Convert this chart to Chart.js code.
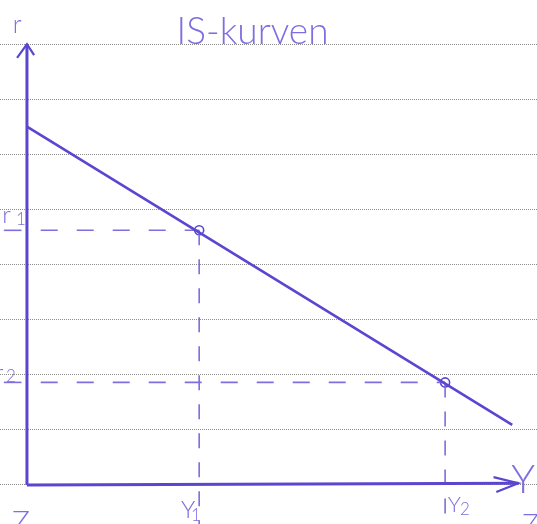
<!DOCTYPE html>
<html lang="da">
<head>
  <meta charset="UTF-8">
  <title>IS-kurven</title>
  <script src="https://cdn.jsdelivr.net/npm/chart.js"></script>
  <style>
    html, body { margin: 0; padding: 0; background: #fff; }
    canvas { display: block; }
  </style>
</head>
<body>
  <canvas id="is" width="537" height="524"></canvas>

  <script>
    // IS-kurven: endepunkter (Y, r)
    const isY = [0, 8.82];
    const isR = [6.50, 1.09];

    // aflæste niveauer
    const yLevels = [3.13, 7.6];    // Y1, Y2
    const rLevels = [4.62, 1.86];   // r1, r2

    // akser
    const rAxisTop = 8.0;
    const yAxisEnd = 8.93;
    const bottom = -0.71;

    const pen = '#5a46d0';
    const penLight = '#7e6ee0';

    const line = (pts, extra) => Object.assign({
      data: pts, showLine: true, pointRadius: 0, borderColor: pen,
      borderWidth: 2.5, fill: false, tension: 0
    }, extra || {});

    const dash = { borderColor: penLight, borderWidth: 1.6, borderDash: [17, 19] };

    const datasets = [
      // r-aksen med pil
      line([{ x: 0, y: 0 }, { x: 0, y: rAxisTop }], { borderWidth: 3 }),
      line([{ x: -0.18, y: rAxisTop - 0.25 }, { x: 0, y: rAxisTop }, { x: 0.13, y: rAxisTop - 0.2 }], { borderWidth: 2.2 }),
      // Y-aksen med pil
      line([{ x: 0, y: 0 }, { x: yAxisEnd, y: 0.03 }], { borderWidth: 3 }),
      line([{ x: yAxisEnd - 0.45, y: 0.14 }, { x: yAxisEnd, y: 0.03 }, { x: yAxisEnd - 0.4, y: -0.13 }], { borderWidth: 2.2 }),
      // IS-kurven
      line(isY.map((v, i) => ({ x: v, y: isR[i] })), { borderWidth: 2.6 }),
    ];

    yLevels.forEach((yv, i) => {
      const rv = rLevels[i];
      datasets.push(line([{ x: 0.25, y: rv }, { x: yv, y: rv }], dash));
      datasets.push(line([{ x: yv, y: rv }, { x: yv, y: bottom }], Object.assign({}, dash, { borderDash: [15, 14] })));
      // lille streg under r-mærket
      datasets.push(line([{ x: -0.42, y: rv }, { x: -0.1, y: rv }], { borderColor: penLight, borderWidth: 1.6 }));
    });

    // ligevægtspunkter
    datasets.push({
      data: yLevels.map((v, i) => ({ x: v, y: rLevels[i] })),
      showLine: false, pointRadius: 4.5, pointStyle: 'circle',
      pointBorderColor: pen, pointBorderWidth: 1.6, pointBackgroundColor: 'rgba(0,0,0,0)'
    });

    const labels = [
      { t: 'IS-kurven', x: 4.1, y: 8.0, s: 37, a: 'center' },
      { t: 'r', x: -0.26, y: 8.2, s: 25 },
      { t: 'r', x: -0.45, y: 4.76, s: 24 },
      { t: '1', x: -0.2, y: 4.72, s: 17 },
      { t: 'r', x: -0.58, y: 1.89, s: 24 },
      { t: '2', x: -0.38, y: 1.86, s: 17 },
      { t: 'Y', x: 2.8, y: -0.6, s: 24 },
      { t: '1', x: 2.98, y: -0.66, s: 17 },
      { t: 'Y', x: 7.65, y: -0.49, s: 22 },
      { t: '2', x: 7.87, y: -0.54, s: 17 },
      { t: 'Y', x: 8.8, y: -0.15, s: 40 },
      { t: 'Z', x: -0.27, y: -0.85, s: 30 },
      { t: 'Z', x: 9.0, y: -0.9, s: 28 },
    ];

    const handLabels = {
      id: 'handLabels',
      afterDatasetsDraw(chart) {
        const { ctx, scales: { x, y } } = chart;
        ctx.save();
        ctx.fillStyle = penLight;
        ctx.textBaseline = 'alphabetic';
        labels.forEach(l => {
          ctx.font = `300 ${l.s}px Lato, "Open Sans", sans-serif`;
          ctx.textAlign = l.a || 'left';
          ctx.fillText(l.t, x.getPixelForValue(l.x), y.getPixelForValue(l.y));
        });
        ctx.restore();
      }
    };

    new Chart(document.getElementById('is'), {
      type: 'scatter',
      data: { datasets },
      options: {
        responsive: false,
        animation: false,
        layout: { padding: 0, autoPadding: false },
        plugins: { legend: { display: false }, tooltip: { enabled: false } },
        scales: {
          x: { type: 'linear', min: -0.49, max: 9.27, display: false },
          y: {
            type: 'linear', min: bottom, max: 8.8,
            ticks: { display: false, stepSize: 1, includeBounds: false },
            grid: { color: '#8c8c8c', lineWidth: 1, drawTicks: false },
            border: { display: false, dash: [1, 1] }
          }
        }
      },
      plugins: [handLabels]
    });
  </script>
</body>
</html>
